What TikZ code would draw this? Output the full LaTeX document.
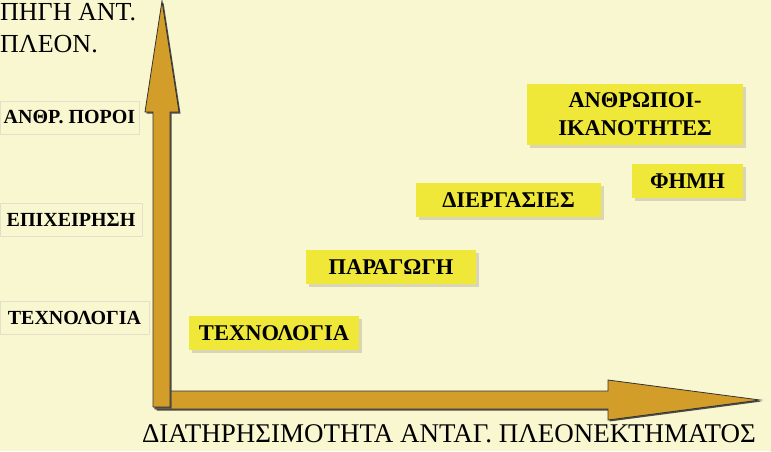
\documentclass[tikz,border=0pt]{standalone}
\usepackage{fontspec}
\setmainfont{Liberation Serif}
\usetikzlibrary{shadows}
\definecolor{bgcream}{HTML}{F9F7D0}
\definecolor{axisgold}{HTML}{D39D2A}
\definecolor{boxyellow}{HTML}{F0E838}
\definecolor{shadowgray}{HTML}{D9D5B5}
\definecolor{labelrule}{HTML}{E2DFCB}

\begin{document}
\begin{tikzpicture}[x=1pt,y=-1pt,
                axis/.style={fill=axisgold,draw=black!80,line width=0.8pt,
                  preaction={fill=black!70,transform canvas={shift={(1.5pt,-1.5pt)}}}},
                factor/.style={fill=boxyellow,minimum height=34pt,inner sep=0pt,
                  font=\fontsize{22.5}{28}\selectfont\bfseries,
                  drop shadow={shadow xshift=2.5pt,shadow yshift=-2.5pt,fill=shadowgray,opacity=1}},
                source/.style={draw=labelrule,line width=1pt,minimum height=33pt,inner sep=0pt,
                  font=\fontsize{20}{22}\selectfont\bfseries},
                caption/.style={inner sep=0pt}]
                \fill[bgcream] (0,0) rectangle (771,451);
                \useasboundingbox (0,0) rectangle (771,451);
                % axes
                \path[axis] (155,391) -- (608,391) -- (608,380) -- (760,400) -- (608,420)
                    -- (608,409) -- (155,409) -- cycle;
                \path[axis] (153,407) -- (153,112) -- (145,112) -- (162,1) -- (179,112)
                    -- (170,112) -- (170,407) -- cycle;
                \node[caption,anchor=north west,align=left,font=\fontsize{26}{32}\selectfont]
                    (source) at (0,3) {ΠΗΓΗ ΑΝΤ.\\ΠΛΕΟΝ.};
                \node[caption,anchor=base,font=\fontsize{27}{32}\selectfont]
                    (sustain) at (449,442) {ΔΙΑΤΗΡΗΣΙΜΟΤΗΤΑ ΑΝΤΑΓ. ΠΛΕΟΝΕΚΤΗΜΑΤΟΣ};
                % sources on the vertical axis
                \node[source,minimum width=139pt] (resources) at (69.5,117.5) {ΑΝΘΡ. ΠΟΡΟΙ};
                \node[source,minimum width=142pt] (firm) at (71,219.5) {ΕΠΙΧΕΙΡΗΣΗ};
                \node[source,minimum width=149pt] (techsrc) at (74.5,318) {ΤΕΧΝΟΛΟΓΙΑ};
                % advantages
                \node[factor,minimum width=170pt] (tech) at (274,333) {ΤΕΧΝΟΛΟΓΙΑ};
                \node[factor,minimum width=170pt] (production) at (391,267) {ΠΑΡΑΓΩΓΗ};
                \node[factor,minimum width=185pt] (processes) at (508.5,200) {ΔΙΕΡΓΑΣΙΕΣ};
                \node[factor,minimum width=111pt] (reputation) at (687.5,181) {ΦΗΜΗ};
                \node[factor,minimum width=216pt,minimum height=61pt,align=center] (people)
                    at (635,114.5) {ΑΝΘΡΩΠΟΙ-\\ΙΚΑΝΟΤΗΤΕΣ};
            \end{tikzpicture}
\end{document}
